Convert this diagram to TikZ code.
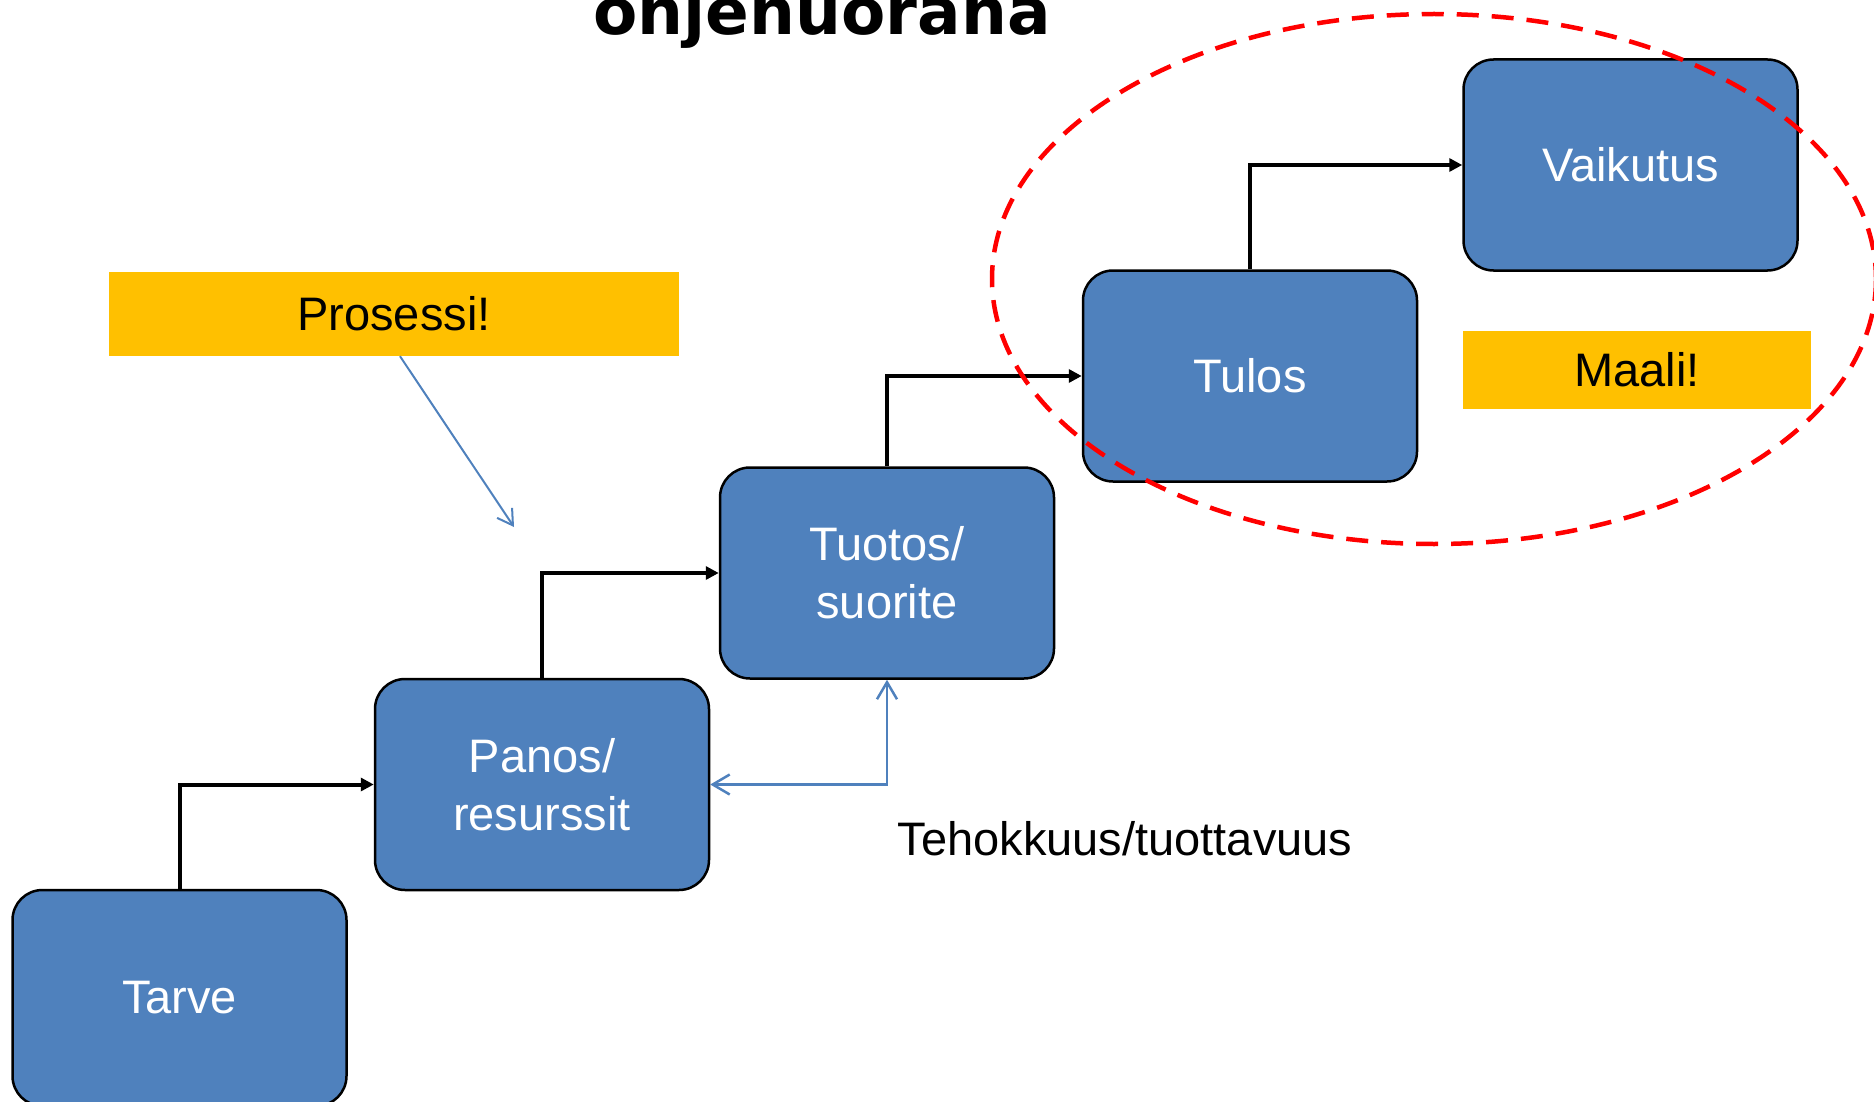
\documentclass[tikz,border=0pt]{standalone}
\usepackage{fontspec}
\setmainfont{Liberation Sans}
\newfontfamily\titlefont{DejaVu Sans}
\usetikzlibrary{arrows.meta}
\definecolor{boxblue}{HTML}{4F81BD}
\definecolor{noteorange}{HTML}{FFC000}
\tikzset{
  stepbox/.style={draw=black, line width=2.5pt, fill=boxblue, rounded corners=30pt,
    minimum width=334pt, minimum height=211pt, inner sep=0pt, text=white, align=center,
    font=\fontsize{47}{58}\selectfont},
  notebox/.style={fill=noteorange, inner sep=0pt, text=black,
    font=\fontsize{47}{58}\selectfont},
  conn/.style={line width=4pt, -{Triangle[length=13pt,width=13pt]}},
  bluelink/.style={draw=boxblue, line width=2.5pt,
    {Straight Barb[length=17pt,width=20pt]}-{Straight Barb[length=17pt,width=20pt]}},
  pointer/.style={draw=boxblue, line width=2pt, -{Straight Barb[length=15pt,width=18pt]}},
  goal/.style={draw=red, line width=4.5pt, dash pattern=on 22pt off 13pt}
}
\begin{document}
\begin{tikzpicture}[x=1pt,y=-1pt]
\useasboundingbox (0,0) rectangle (1874,1102);
\clip (0,0) rectangle (1874,1102);
% title (cut at top, as in the reference)
\node[anchor=base, inner sep=0pt, font=\titlefont\bfseries\fontsize{64.5}{72}\selectfont] (title) at (822,35) {ohjenuorana};
% boxes
\node[stepbox, minimum height=216pt] (tarve) at (179.5,998) {Tarve};
\node[stepbox] (panos) at (542,784.5) {Panos/\\resurssit};
\node[stepbox] (tuotos) at (887,573) {Tuotos/\\suorite};
\node[stepbox] (tulos) at (1250,376) {Tulos};
\node[stepbox] (vaikutus) at (1630.5,165) {Vaikutus};
% notes
\node[notebox, minimum width=570pt, minimum height=84pt] (prosessi) at (394,314) {Prosessi!};
\node[notebox, minimum width=348pt, minimum height=78pt] (maali) at (1637,370) {Maali!};
\node[inner sep=0pt, font=\fontsize{47}{58}\selectfont] (teho) at (1125,839) {Tehokkuus/tuottavuus};
% connectors
\draw[conn] (tarve.north) |- (panos.west);
\draw[conn] (panos.north) |- (tuotos.west);
\draw[conn] (tuotos.north) |- (tulos.west);
\draw[conn] (tulos.north) |- (vaikutus.west);
\draw[bluelink] (panos.east) -| (tuotos.south);
\coordinate (ptip) at (514,527);
\draw[pointer] ([xshift=6pt]prosessi.south) -- (ptip);
% goal ellipse
\draw[goal] (1434,279) ellipse [x radius=442, y radius=265];
\end{tikzpicture}
\end{document}
